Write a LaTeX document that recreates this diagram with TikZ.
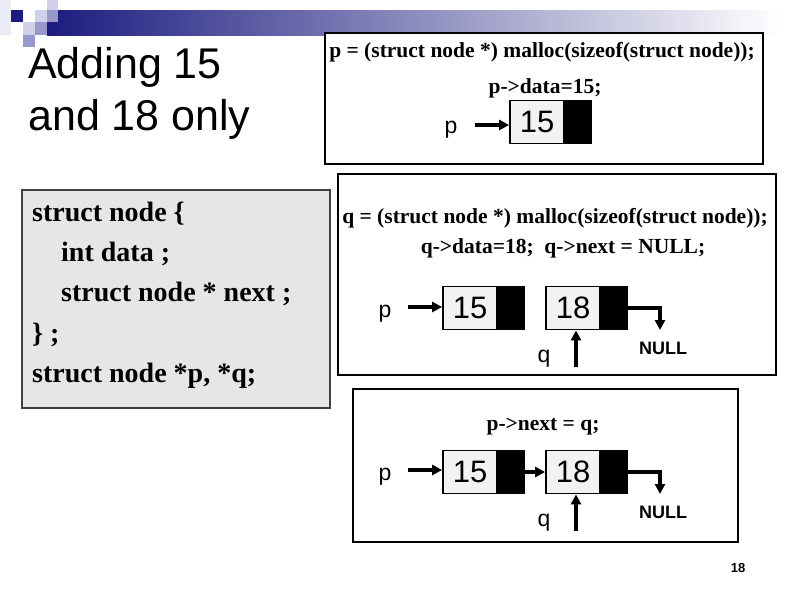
\documentclass[tikz,border=0pt]{standalone}
\usepackage{fontspec}
\setmainfont{Liberation Serif}
\setsansfont{Liberation Sans}
\usetikzlibrary{arrows.meta}
\definecolor{navy}{RGB}{28,28,128}
\definecolor{sqmed}{RGB}{152,152,204}
\definecolor{sqlight}{RGB}{208,208,234}
\definecolor{sqpale}{RGB}{236,236,246}
\definecolor{structfill}{RGB}{230,230,230}
\definecolor{structedge}{RGB}{64,64,64}
\definecolor{cellfill}{RGB}{242,242,242}
\begin{document}
\begin{tikzpicture}[x=1pt,y=-1pt,
  frame/.style={draw=black, line width=2pt, fill=white},
  codetxt/.style={font=\bfseries\fontsize{28}{28}\selectfont, inner sep=0, anchor=base west},
  stmt/.style={font=\bfseries\fontsize{21.5}{21.5}\selectfont, inner sep=0, anchor=base},
  cellw/.style={draw=black, line width=1.8pt, fill=cellfill, minimum width=54pt, minimum height=43pt, inner sep=0, font=\sffamily\fontsize{31}{31}\selectfont},
  cellb/.style={draw=black, line width=1.8pt, fill=black, minimum width=25pt, minimum height=43pt, inner sep=0, anchor=west},
  ptrlbl/.style={font=\sffamily\fontsize{23}{23}\selectfont, inner sep=0, anchor=base},
  nulllbl/.style={font=\sffamily\bfseries\fontsize{18}{18}\selectfont, inner sep=0},
  arr/.style={line width=3.2pt, -{Triangle[length=10pt,width=10pt]}}
]
\useasboundingbox (0,0) rectangle (794,595);
% banner
\shade[left color=navy, right color=white, middle color={rgb,255:red,140;green,140;blue,190}] (47,10) rectangle (780,35);
\fill[sqpale] (0,0) rectangle (11,35);
\fill[navy] (11,10) rectangle (23,22);
\fill[sqlight] (35,10) rectangle (47,22);
\fill[sqlight] (47,0) rectangle (58,10);
\fill[sqmed] (47,10) rectangle (58,22);
\fill[sqlight] (23,22) rectangle (35,35);
\fill[sqmed] (35,22) rectangle (47,35);
\fill[sqmed] (23,35) rectangle (35,47);
% title
\node[font=\sffamily\fontsize{43}{43}\selectfont, inner sep=0, anchor=base west] (t1) at (28,78) {Adding 15};
\node[font=\sffamily\fontsize{43}{43}\selectfont, inner sep=0, anchor=base west] (t2) at (28,130) {and 18 only};
% struct box
\draw[structedge, line width=1.5pt, fill=structfill] (22,190) rectangle (330,408);
\node[codetxt] (s1) at (32,221) {struct node \{};
\node[codetxt] (s2) at (61,261) {int data ;};
\node[codetxt] (s3) at (61,301.5) {struct node * next ;};
\node[codetxt] (s4) at (32,342) {\} ;};
\node[codetxt] (s5) at (32,382) {struct node *p, *q;};
% box 1
\draw[frame] (325,33) rectangle (763,164);
\node[stmt] (b1l1) at (542,57) {p = (struct node *) malloc(sizeof(struct node));};
\node[stmt] (b1l2) at (545,93) {p->data=15;};
\node[cellw] (a15) at (537,122) {15};
\node[cellb] (a15b) at (a15.east) {};
\node[ptrlbl] (ap) at (451,133) {p};
\coordinate (aps) at (475,125);
\draw[arr] (aps) -- (aps -| a15.west);
% box 2
\draw[frame] (338,174) rectangle (776,375);
\node[stmt] (b2l1) at (555,223) {q = (struct node *) malloc(sizeof(struct node));};
\node[stmt] (b2l2) at (563,253) {q->data=18;\ \ q->next = NULL;};
\node[cellw] (b15) at (470,308) {15};
\node[cellb] (b15b) at (b15.east) {};
\node[cellw] (b18) at (573,308) {18};
\node[cellb] (b18b) at (b18.east) {};
\node[ptrlbl] (bp) at (385,317) {p};
\coordinate (bps) at (408,307);
\draw[arr] (bps) -- (bps -| b15.west);
\node[nulllbl] (bnull) at (663,348) {NULL};
\coordinate (bne) at (660,330);
\draw[arr] (b18b.east) -| (bne);
\node[ptrlbl] (bq) at (544,362) {q};
\coordinate (bqs) at (576,367);
\draw[arr] (bqs) -- (bqs |- b18.south);
% box 3
\draw[frame] (353,389) rectangle (738,542);
\node[stmt] (b3l1) at (543,430) {p->next = q;};
\node[cellw] (c15) at (470,472) {15};
\node[cellb] (c15b) at (c15.east) {};
\node[cellw] (c18) at (573,472) {18};
\node[cellb] (c18b) at (c18.east) {};
\node[ptrlbl] (cp) at (385,480) {p};
\coordinate (cps) at (408,470);
\draw[arr] (cps) -- (cps -| c15.west);
\draw[arr] (c15b.east) -- (c18.west);
\node[nulllbl] (cnull) at (663,512) {NULL};
\coordinate (cne) at (660,494);
\draw[arr] (c18b.east) -| (cne);
\node[ptrlbl] (cq) at (544,526) {q};
\coordinate (cqs) at (576,531);
\draw[arr] (cqs) -- (cqs |- c18.south);
% page number
\node[font=\sffamily\bfseries\fontsize{13}{13}\selectfont, inner sep=0] (pg) at (738,568) {18};
\end{tikzpicture}
\end{document}
